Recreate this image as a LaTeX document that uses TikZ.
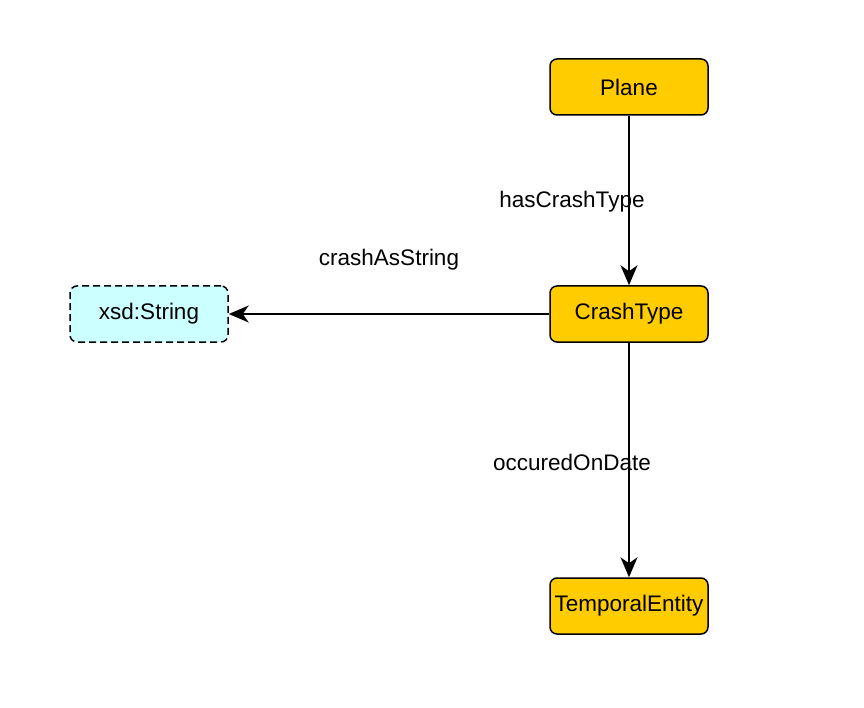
\documentclass[tikz,border=0pt]{standalone}
\usepackage{fontspec}
\setmainfont{Liberation Sans}
\usetikzlibrary{arrows.meta}
\definecolor{cls}{HTML}{FFCC00}
\definecolor{dtype}{HTML}{CCFFFF}
\begin{document}
\begin{tikzpicture}[x=1pt,y=-1pt,
  every node/.style={font=\fontsize{22.5}{27}\selectfont},
  classbox/.style={draw=black, line width=1.5pt, fill=cls, rounded corners=7pt, minimum width=158pt, minimum height=56pt, inner sep=0pt},
  dtbox/.style={draw=black, line width=1.5pt, fill=dtype, dash pattern=on 7pt off 4pt, rounded corners=7pt, minimum width=158pt, minimum height=56pt, inner sep=0pt},
  rel/.style={draw=black, line width=1.8pt, -{Stealth[length=20pt, width=17pt, inset=6pt]}},
  lbl/.style={inner sep=1pt}]
\useasboundingbox (0,0) rectangle (864,708);
\node[classbox] (plane) at (629,87) {Plane};
\node[classbox] (crash) at (629,314) {CrashType};
\node[classbox] (temp) at (629,606) {TemporalEntity};
\node[dtbox] (str) at (149,314) {xsd:String};
\draw[rel] (plane) -- (crash);
\draw[rel] (crash) -- (str);
\draw[rel] (crash) -- (temp);
\node[lbl] (l1) at (572,202) {hasCrashType};
\node[lbl] (l2) at (389,260) {crashAsString};
\node[lbl] (l3) at (572,462) {occuredOnDate};
\end{tikzpicture}
\end{document}
